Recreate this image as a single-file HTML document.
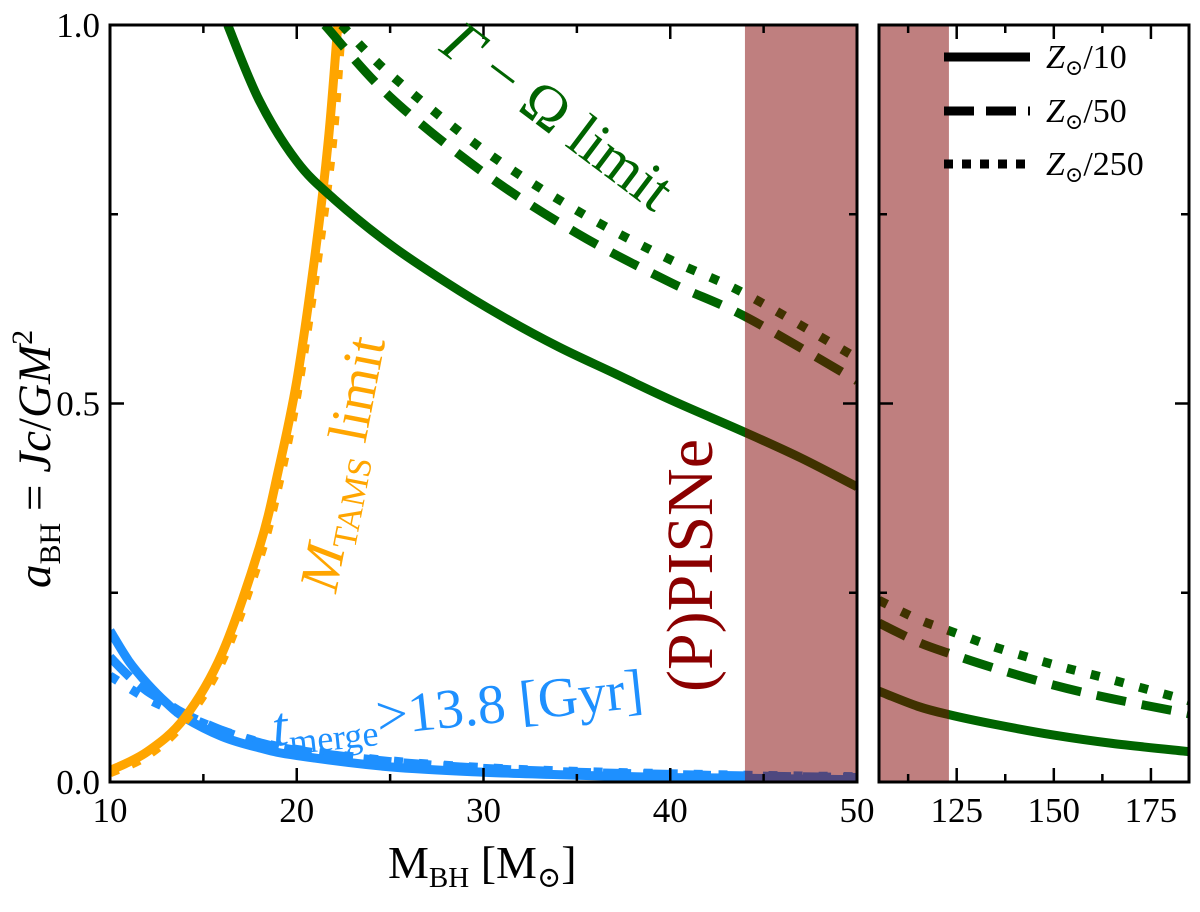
<!DOCTYPE html>
<html><head><meta charset="utf-8"><style>
body{margin:0;background:#fff;}
svg text{font-family:"Liberation Serif","DejaVu Serif",serif;}
</style></head><body>
<svg id="chart" width="1200" height="907" viewBox="0 0 1200 907" xmlns="http://www.w3.org/2000/svg">
<g id="lines"></g>
<g id="axes"></g>
</svg>
<script>
// ---- data ----
const greenSolidX = [16.3, 18, 20, 22, 25, 28, 31, 34, 37, 40, 44, 47, 50];
const greenSolidY = [1.0, 0.9, 0.82, 0.77, 0.71, 0.66, 0.615, 0.575, 0.54, 0.505, 0.462, 0.428, 0.39];
const greenDashX = [21.5, 25, 30, 35, 40, 44, 50];
const greenDashY = [1.0, 0.905, 0.805, 0.725, 0.66, 0.615, 0.53];
const greenDotX = [22.4, 25, 30, 35, 40, 44, 50];
const greenDotY = [1.0, 0.935, 0.835, 0.755, 0.69, 0.645, 0.56];
const orangeSolidX = [10, 12, 14, 16, 18, 19, 20, 21, 21.7, 22.2];
const orangeSolidY = [0.015, 0.04, 0.085, 0.17, 0.31, 0.41, 0.53, 0.7, 0.85, 1.0];
const orangeDotX = [10, 12, 14, 16, 18, 19, 20, 21, 21.9, 22.4];
const orangeDotY = [0.012, 0.035, 0.08, 0.16, 0.295, 0.39, 0.51, 0.67, 0.84, 1.0];
const blueSolidX = [10, 11, 12, 13, 14, 16, 18, 20, 25, 30, 35, 40, 44, 50];
const blueSolidY = [0.2, 0.16, 0.13, 0.105, 0.085, 0.06, 0.045, 0.035, 0.02, 0.013, 0.009, 0.006, 0.005, 0.003];
const blueDashX = [10, 11, 12, 13, 14, 16, 18, 20, 25, 30, 35, 40, 44, 50];
const blueDashY = [0.165, 0.14, 0.12, 0.105, 0.09, 0.068, 0.052, 0.042, 0.027, 0.018, 0.013, 0.01, 0.008, 0.006];
const blueDotX = [10, 12, 14, 16, 18, 20, 25, 30, 35, 40, 44, 50];
const blueDotY = [0.14, 0.11, 0.088, 0.068, 0.053, 0.043, 0.028, 0.019, 0.014, 0.011, 0.009, 0.007];
const rSolidX = [105, 115, 123, 135, 150, 165, 185];
const rSolidY = [0.12, 0.10, 0.089, 0.076, 0.062, 0.051, 0.04];
const rDashX = [105, 115, 123, 135, 150, 165, 185];
const rDashY = [0.21, 0.185, 0.17, 0.15, 0.128, 0.11, 0.09];
const rDotX = [105, 115, 123, 135, 150, 165, 185];
const rDotY = [0.24, 0.215, 0.2, 0.178, 0.155, 0.135, 0.107];
const leftXTicks = [10, 20, 30, 40, 50];
const rightXTicks = [125, 150, 175];
const yTicks = [0.0, 0.5, 1.0];
const bandLeft = [44, 50];
const bandRight = [105, 123];

// ---- axes functions ----
const L = {x0:110, x1:857, d0:10, d1:50};
const R = {x0:879, x1:1189, d0:105, d1:184.8};
const Y = {y0:782, y1:25};
const xL = v => L.x0 + (v - L.d0) / (L.d1 - L.d0) * (L.x1 - L.x0);
const xR = v => R.x0 + (v - R.d0) / (R.d1 - R.d0) * (R.x1 - R.x0);
const yS = v => Y.y0 + v * (Y.y1 - Y.y0);
const NS = 'http://www.w3.org/2000/svg';
const gl = document.getElementById('lines');
const ga = document.getElementById('axes');
function mk(tag, attrs, parent){const e=document.createElementNS(NS,tag);for(const k in attrs)e.setAttribute(k,attrs[k]);parent.appendChild(e);return e;}

const defs = mk('defs', {}, gl);
const c1 = mk('clipPath', {id:'clipL'}, defs); mk('rect',{x:L.x0,y:Y.y1,width:L.x1-L.x0,height:Y.y0-Y.y1},c1);
const c2 = mk('clipPath', {id:'clipR'}, defs); mk('rect',{x:R.x0,y:Y.y1,width:R.x1-R.x0,height:Y.y0-Y.y1},c2);
const gL = mk('g', {'clip-path':'url(#clipL)'}, gl);
const gR = mk('g', {'clip-path':'url(#clipR)'}, gl);

function smooth(P){
  let d = 'M'+P[0][0].toFixed(1)+','+P[0][1].toFixed(1);
  for(let i=0;i<P.length-1;i++){
    const p0=P[Math.max(i-1,0)], p1=P[i], p2=P[i+1], p3=P[Math.min(i+2,P.length-1)];
    const c1x=p1[0]+(p2[0]-p0[0])/6, c1y=p1[1]+(p2[1]-p0[1])/6;
    const c2x=p2[0]-(p3[0]-p1[0])/6, c2y=p2[1]-(p3[1]-p1[1])/6;
    d+=' C'+c1x.toFixed(1)+','+c1y.toFixed(1)+' '+c2x.toFixed(1)+','+c2y.toFixed(1)+' '+p2[0].toFixed(1)+','+p2[1].toFixed(1);
  }
  return d;
}
function series(g, xf, xs, ys, color, dash, name){
  const P = xs.map((v,i)=>[xf(v), yS(ys[i])]);
  const p = mk('path', {d:smooth(P), fill:'none', stroke:color, 'stroke-width':9, 'stroke-linejoin':'round'}, g);
  if (dash) p.setAttribute('stroke-dasharray', dash);
  
  
}
const GREEN='#006400', ORANGE='#ffa500', BLUE='#1e90ff';
series(gL, xL, blueDotX, blueDotY, BLUE, '9 16', 'tmerge-line-z250');
series(gL, xL, blueDashX, blueDashY, BLUE, '28 12', 'tmerge-line-z50');
series(gL, xL, blueSolidX, blueSolidY, BLUE, null, 'tmerge-line-z10');
series(gL, xL, orangeDotX, orangeDotY, ORANGE, '9 14', 'mtams-line-z250');
series(gL, xL, orangeSolidX, orangeSolidY, ORANGE, null, 'mtams-line-z10');
series(gL, xL, greenSolidX, greenSolidY, GREEN, null, 'gamma-omega-line-z10');
series(gL, xL, greenDashX, greenDashY, GREEN, '30 16', 'gamma-omega-line-z50');
series(gL, xL, greenDotX, greenDotY, GREEN, '9 16', 'gamma-omega-line-z250');
series(gR, xR, rSolidX, rSolidY, GREEN, null, 'gamma-omega-line-z10-high');
series(gR, xR, rDashX, rDashY, GREEN, '30 16', 'gamma-omega-line-z50-high');
series(gR, xR, rDotX, rDotY, GREEN, '9 16', 'gamma-omega-line-z250-high');

const b1 = mk('rect',{x:xL(bandLeft[0]),y:Y.y1,width:xL(bandLeft[1])-xL(bandLeft[0]),height:Y.y0-Y.y1,fill:'#800000','fill-opacity':0.5},gL);


const b2 = mk('rect',{x:xR(bandRight[0]),y:Y.y1,width:xR(bandRight[1])-xR(bandRight[0]),height:Y.y0-Y.y1,fill:'#800000','fill-opacity':0.5},gR);



const f1 = mk('rect',{x:L.x0,y:Y.y1,width:L.x1-L.x0,height:Y.y0-Y.y1,fill:'none',stroke:'#000','stroke-width':3},ga);


const f2 = mk('rect',{x:R.x0,y:Y.y1,width:R.x1-R.x0,height:Y.y0-Y.y1,fill:'none',stroke:'#000','stroke-width':3},ga);



function tick(x1,y1,x2,y2){mk('line',{x1,y1,x2,y2,stroke:'#000','stroke-width':2.5},ga);}
for(let v=10; v<=50; v+=5){const x=xL(v), len=(v%10===0)?14:8; tick(x,Y.y0,x,Y.y0-len); tick(x,Y.y1,x,Y.y1+len);}
leftXTicks.forEach(v=>{const t=mk('text',{x:xL(v),y:Y.y0+40,'text-anchor':'middle','font-size':35},ga);t.textContent=String(v);
  
  });
for(let v=112.5; v<=184; v+=12.5){const x=xR(v), len=(v%25===0)?14:8; tick(x,Y.y0,x,Y.y0-len); tick(x,Y.y1,x,Y.y1+len);}
rightXTicks.forEach(v=>{const t=mk('text',{x:xR(v),y:Y.y0+40,'text-anchor':'middle','font-size':35},ga);t.textContent=String(v);
  
  });
for(let v=0; v<=1.0001; v+=0.25){const y=yS(v), len=(Math.abs(v*2-Math.round(v*2))<1e-6)?14:8;
  tick(L.x0,y,L.x0+len,y); tick(L.x1,y,L.x1-len,y); tick(R.x0,y,R.x0+len,y); tick(R.x1,y,R.x1-len,y);}
yTicks.forEach(v=>{const t=mk('text',{x:L.x0-10,y:yS(v)+12,'text-anchor':'end','font-size':35},ga);t.textContent=v.toFixed(1);
  
  });
</script>
<svg style="position:absolute;left:0;top:0" width="1200" height="907" xmlns="http://www.w3.org/2000/svg">
<text x="388" y="878" font-size="46" font-family="Liberation Serif, serif">M<tspan font-size="29" dy="9">BH</tspan><tspan dy="-9"> [M</tspan><tspan font-size="29" dy="9">⊙</tspan><tspan dy="-9">]</tspan></text>
<text transform="translate(50,588) rotate(-90)" font-size="47" font-family="Liberation Serif, serif"><tspan font-style="italic">a</tspan><tspan font-size="30" dy="10">BH</tspan><tspan dy="-10"> = </tspan><tspan font-style="italic">Jc</tspan>/<tspan font-style="italic">GM</tspan><tspan font-size="30" dy="-18">2</tspan></text>
<text transform="translate(438,50) rotate(37)" font-size="60" fill="#006400" font-family="Liberation Serif, serif"><tspan font-style="italic">Γ</tspan> − Ω limit</text>
<text transform="translate(336,594) rotate(-79)" font-size="56" fill="#ffa500" font-family="Liberation Serif, serif"><tspan font-style="italic">M</tspan><tspan font-size="34" dy="10">TAMS</tspan><tspan dy="-10"> limit</tspan></text>
<text transform="translate(712,692) rotate(-90)" font-size="66" fill="#8b0000" font-family="Liberation Serif, serif">(P)PISNe</text>
<text transform="translate(274,746) rotate(-6)" font-size="56" fill="#1e90ff" font-family="Liberation Serif, serif"><tspan font-style="italic">t</tspan><tspan font-size="36" dy="10">merge</tspan><tspan dy="-10">&gt;13.8 [Gyr]</tspan></text>
<g>
<line x1="944" y1="57" x2="1030" y2="57" stroke="#000" stroke-width="9"/>
<line x1="944" y1="111" x2="1030" y2="111" stroke="#000" stroke-width="9" stroke-dasharray="30 12"/>
<line x1="944" y1="164" x2="1030" y2="164" stroke="#000" stroke-width="9" stroke-dasharray="9 9"/>
<text x="1046" y="68" font-size="34" font-family="Liberation Serif, serif"><tspan font-style="italic">Z</tspan><tspan font-size="22" dy="7">⊙</tspan><tspan dy="-7">/10</tspan></text>
<text x="1046" y="122" font-size="34" font-family="Liberation Serif, serif"><tspan font-style="italic">Z</tspan><tspan font-size="22" dy="7">⊙</tspan><tspan dy="-7">/50</tspan></text>
<text x="1046" y="175" font-size="34" font-family="Liberation Serif, serif"><tspan font-style="italic">Z</tspan><tspan font-size="22" dy="7">⊙</tspan><tspan dy="-7">/250</tspan></text>
</g>
</svg>
</body></html>
